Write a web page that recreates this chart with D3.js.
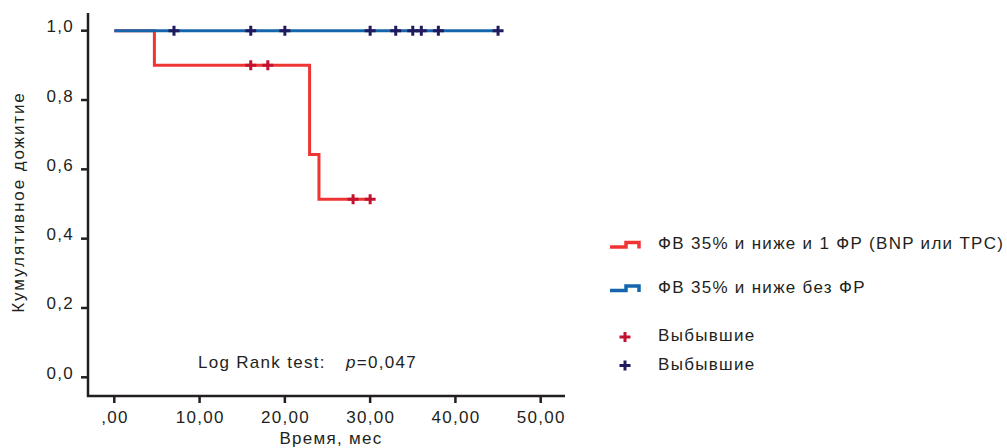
<!DOCTYPE html>
<html>
<head>
<meta charset="utf-8">
<script src="https://cdn.jsdelivr.net/npm/d3@7"></script>
<style>
  body { margin: 0; background: #fff; }
  svg text { font-family: "Liberation Sans", Arial, sans-serif; fill: #231f20; font-size: 17px; letter-spacing: 1.3px; }
</style>
</head>
<body>
<div id="chart"></div>
<script>
// step curves (time in months, cumulative survival)
const redTimes = [0, 4.7, 22.9, 24.0, 30];
const redSurv = [1.0, 0.9, 0.643, 0.514, 0.514];
const blueTimes = [0, 45];
const blueSurv = [1.0, 1.0];
// censored cases
const redCensored = [16, 18, 28, 30];
const blueCensored = [7, 16, 20, 30, 33, 35, 36, 38, 45];

const xTicks = [0, 10, 20, 30, 40, 50];
const xTickLabels = [",00", "10,00", "20,00", "30,00", "40,00", "50,00"];
const yTicks = [0, 0.2, 0.4, 0.6, 0.8, 1.0];
const yTickLabels = ["0,0", "0,2", "0,4", "0,6", "0,8", "1,0"];

const legendLabels = ["ФВ 35% и ниже и 1 ФР (BNP или TPC)", "ФВ 35% и ниже без ФР", "Выбывшие", "Выбывшие"];

const width = 1007, height = 448;
const redLine = "#ef3434", blueLine = "#1566ad";
const redMark = "#c3122f", blueMark = "#201b5f";
const ink = "#231f20";

const svg = d3.select("#chart").append("svg")
    .attr("width", width)
    .attr("height", height);

const x = d3.scaleLinear().domain([0, 50]).range([114.3, 540.7]);
const y = d3.scaleLinear().domain([0, 1]).range([377.3, 30.7]);

const axisLeftX = 88, axisBottomY = 396;

// axis lines
svg.append("line")
    .attr("x1", axisLeftX).attr("x2", axisLeftX)
    .attr("y1", 13).attr("y2", axisBottomY + 1)
    .attr("stroke", ink).attr("stroke-width", 2.5);
svg.append("line")
    .attr("x1", axisLeftX - 1).attr("x2", 565)
    .attr("y1", axisBottomY).attr("y2", axisBottomY)
    .attr("stroke", ink).attr("stroke-width", 2.5);

// y ticks
const yAxis = svg.append("g");
yTicks.forEach((t, i) => {
    yAxis.append("line")
        .attr("x1", axisLeftX - 7).attr("x2", axisLeftX)
        .attr("y1", y(t)).attr("y2", y(t))
        .attr("stroke", ink).attr("stroke-width", 2.5);
    yAxis.append("text")
        .attr("x", 74)
        .attr("y", y(t) + 1.5)
        .attr("text-anchor", "end")
        .text(yTickLabels[i]);
});

// x ticks
const xAxis = svg.append("g");
xTicks.forEach((t, i) => {
    xAxis.append("line")
        .attr("x1", x(t)).attr("x2", x(t))
        .attr("y1", axisBottomY).attr("y2", axisBottomY + 7)
        .attr("stroke", ink).attr("stroke-width", 2.5);
    xAxis.append("text")
        .attr("x", x(t) + 0.6)
        .attr("y", 422.5)
        .attr("text-anchor", "middle")
        .text(xTickLabels[i]);
});

// axis titles
svg.append("text")
    .attr("x", 331)
    .attr("y", 443.5)
    .attr("text-anchor", "middle")
    .text("Время, мес");

svg.append("text")
    .attr("transform", "translate(24,202) rotate(-90)")
    .attr("text-anchor", "middle")
    .style("letter-spacing", "1.9px")
    .text("Кумулятивное дожитие");

// curves
const line = d3.line()
    .x(d => x(d[0]))
    .y(d => y(d[1]))
    .curve(d3.curveStepAfter);

svg.append("path")
    .datum(redTimes.map((t, i) => [t, redSurv[i]]))
    .attr("d", line)
    .attr("fill", "none")
    .attr("stroke", redLine)
    .attr("stroke-width", 3);

svg.append("path")
    .datum(blueTimes.map((t, i) => [t, blueSurv[i]]))
    .attr("d", line)
    .attr("fill", "none")
    .attr("stroke", blueLine)
    .attr("stroke-width", 3);

function survAt(times, surv, t) {
    let s = surv[0];
    times.forEach((tt, i) => { if (tt <= t) s = surv[i]; });
    return s;
}

function drawPlus(g, cx, cy, color) {
    g.append("path")
        .attr("d", `M${cx - 5.5},${cy}H${cx + 5.5}M${cx},${cy - 5}V${cy + 5}`)
        .attr("stroke", color)
        .attr("stroke-width", 3)
        .attr("fill", "none");
}

const marks = svg.append("g");
redCensored.forEach(t => drawPlus(marks, x(t), y(survAt(redTimes, redSurv, t)), redMark));
blueCensored.forEach(t => drawPlus(marks, x(t), y(survAt(blueTimes, blueSurv, t)), blueMark));

// log rank annotation
const note = svg.append("text")
    .attr("x", 198)
    .attr("y", 367.5);
note.append("tspan").text("Log Rank test:");
note.append("tspan").attr("x", 346).style("font-style", "italic").text("p");
note.append("tspan").text("=0,047");

// legend
const legend = svg.append("g");
const legendSteps = [
    { color: redLine, cy: 245, ty: 248.5 },
    { color: blueLine, cy: 288.5, ty: 292.5 }
];
legendSteps.forEach((d, i) => {
    legend.append("path")
        .attr("d", `M610,${d.cy + 2}H626V${d.cy - 2.5}H639V${d.cy + 3.5}`)
        .attr("fill", "none")
        .attr("stroke", d.color)
        .attr("stroke-width", 3.5);
    legend.append("text")
        .attr("x", 658)
        .attr("y", d.ty)
        .text(legendLabels[i]);
});
[{ color: redMark, cy: 337, ty: 341 }, { color: blueMark, cy: 365.5, ty: 369.5 }].forEach((d, i) => {
    drawPlus(legend, 625, d.cy, d.color);
    legend.append("text")
        .attr("x", 658)
        .attr("y", d.ty)
        .text(legendLabels[i + 2]);
});
</script>
</body>
</html>
